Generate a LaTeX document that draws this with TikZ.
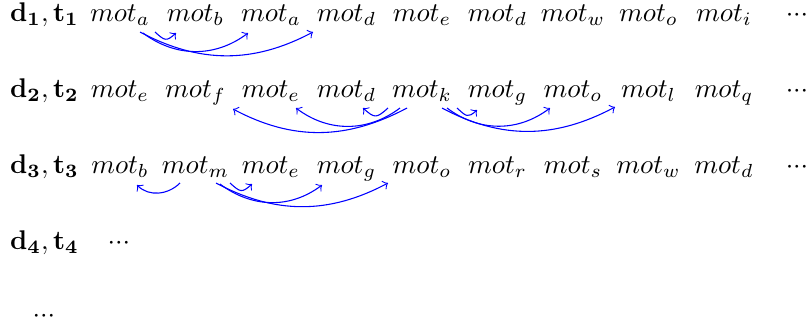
\documentclass[tikz,border=0pt]{standalone}
\usetikzlibrary{calc}
\newcommand\mydots{$\mathord{\cdot}\mathord{\cdot}\mathord{\cdot}$}
\begin{document}
\begin{tikzpicture}[x=0.37pt, y=-0.37pt,
  w/.style={anchor=base, inner sep=0pt},
  arr/.style={draw=blue, ->, line width=0.4pt},
  longR/.style={out=-28,in=-152},
  midR/.style={out=-37,in=-143},
  shortR/.style={out=-42,in=-138,looseness=1.6},
  longL/.style={out=-152,in=-28},
  midL/.style={out=-143,in=-37},
  shortL/.style={out=-138,in=-42,looseness=1.6},
  bowlL/.style={out=-135,in=-45},
]
\useasboundingbox (0,0) rectangle (812,328);
% labels
\node[w] (l1) at (44.5,21) {$\mathbf{d_1, t_1}$};
\node[w] (l2) at (44.5,97) {$\mathbf{d_2, t_2}$};
\node[w] (l3) at (44.5,173) {$\mathbf{d_3, t_3}$};
\node[w] (l4) at (44.5,249) {$\mathbf{d_4, t_4}$};
\node[w] (l5) at (44,322) {\mydots};
% row 1
\node[w] (r1w1) at (120,21) {$mot_a$};
\node[w] (r1w2) at (195.5,21) {$mot_b$};
\node[w] (r1w3) at (271,21) {$mot_a$};
\node[w] (r1w4) at (346.5,21) {$mot_d$};
\node[w] (r1w5) at (422,21) {$mot_e$};
\node[w] (r1w6) at (497.5,21) {$mot_d$};
\node[w] (r1w7) at (573,21) {$mot_w$};
\node[w] (r1w8) at (648.5,21) {$mot_o$};
\node[w] (r1w9) at (724,21) {$mot_i$};
\node[w] (r1d) at (797,21) {\mydots};
% row 2
\node[w] (r2w1) at (120,97) {$mot_e$};
\node[w] (r2w2) at (195.5,97) {$mot_f$};
\node[w] (r2w3) at (271,97) {$mot_e$};
\node[w] (r2w4) at (346.5,97) {$mot_d$};
\node[w] (r2w5) at (422,97) {$mot_k$};
\node[w] (r2w6) at (497.5,97) {$mot_g$};
\node[w] (r2w7) at (573,97) {$mot_o$};
\node[w] (r2w8) at (648.5,97) {$mot_l$};
\node[w] (r2w9) at (724,97) {$mot_q$};
\node[w] (r2d) at (797,97) {\mydots};
% row 3
\node[w] (r3w1) at (120,173) {$mot_b$};
\node[w] (r3w2) at (195.5,173) {$mot_m$};
\node[w] (r3w3) at (271,173) {$mot_e$};
\node[w] (r3w4) at (346.5,173) {$mot_g$};
\node[w] (r3w5) at (422,173) {$mot_o$};
\node[w] (r3w6) at (497.5,173) {$mot_r$};
\node[w] (r3w7) at (573,173) {$mot_s$};
\node[w] (r3w8) at (648.5,173) {$mot_w$};
\node[w] (r3w9) at (724,173) {$mot_d$};
\node[w] (r3d) at (797,173) {\mydots};
% row 4
\node[w] (r4d) at (119,249) {\mydots};
% arrows row 1
\draw[arr] ($(r1w1.base)+(35,11)$) to[shortR] ($(r1w2.base)+(-19.5,12)$);
\draw[arr] ($(r1w1.base)+(23,12)$) to[midR] ($(r1w3.base)+(-23,12)$);
\draw[arr] ($(r1w1.base)+(20,11)$) to[longR] ($(r1w4.base)+(-33.5,11)$);
% arrows row 2
\draw[arr] ($(r2w5.base)+(35,11)$) to[shortR] ($(r2w6.base)+(-20.5,13)$);
\draw[arr] ($(r2w5.base)+(25,11)$) to[midR] ($(r2w7.base)+(-23,11)$);
\draw[arr] ($(r2w5.base)+(20,11)$) to[longR] ($(r2w8.base)+(-33.5,10)$);
\draw[arr] ($(r2w5.base)+(-34,11)$) to[shortL] ($(r2w4.base)+(16.5,11)$);
\draw[arr] ($(r2w5.base)+(-22,11)$) to[midL] ($(r2w3.base)+(25,11)$);
\draw[arr] ($(r2w5.base)+(-15,11)$) to[longL] ($(r2w2.base)+(37.5,12)$);
% arrows row 3
\draw[arr] ($(r3w2.base)+(34.5,10)$) to[shortR] ($(r3w3.base)+(-19,11)$);
\draw[arr] ($(r3w2.base)+(24.5,11)$) to[midR] ($(r3w4.base)+(-24.5,12)$);
\draw[arr] ($(r3w2.base)+(20.5,10)$) to[longR] ($(r3w5.base)+(-34,10)$);
\draw[arr] ($(r3w2.base)+(-15.5,10)$) to[bowlL] ($(r3w1.base)+(17,12)$);
\end{tikzpicture}
\end{document}
